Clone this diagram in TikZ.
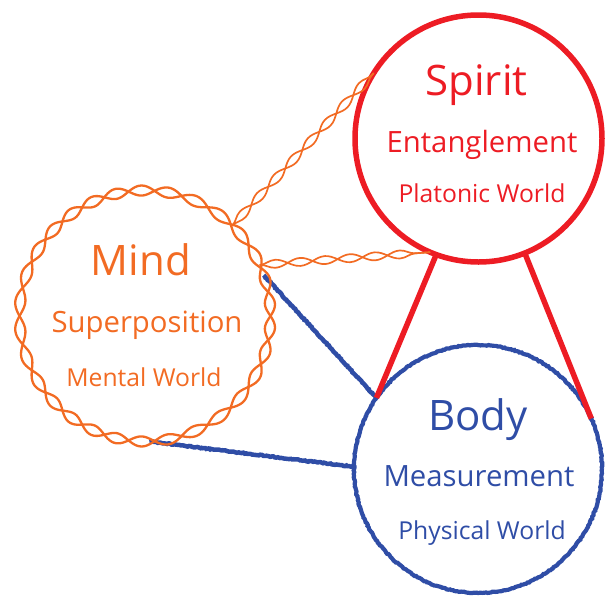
\documentclass[tikz,border=0pt]{standalone}
\usepackage{fontspec}
\setmainfont{Open Sans}
\usetikzlibrary{shapes.geometric,decorations.pathmorphing}
\definecolor{spiritred}{HTML}{ED1C24}
\definecolor{mindorange}{HTML}{F26B23}
\definecolor{bodyblue}{HTML}{2F4DA6}
\begin{document}
\begin{tikzpicture}[x=1pt,y=-1pt,
  rough/.style={decorate,decoration={random steps,segment length=1.6pt,amplitude=0.5pt}},
  ring/.style={circle,inner sep=0pt,outer sep=0pt},
  redline/.style={draw=spiritred,line width=5.5pt},
  blueline/.style={draw=bodyblue,line width=4.5pt,rough},
  strand/.style={draw=mindorange,line width=2.3pt},
  thin strand/.style={draw=mindorange,line width=1.7pt},
  helix/.style={thin strand,decorate,decoration={snake,segment length=50pt,amplitude=4pt}},
  helixm/.style={thin strand,decorate,decoration={snake,segment length=50pt,amplitude=4pt,mirror}},
  tbig/.style={anchor=base,font=\fontsize{42}{42}\selectfont,inner sep=0pt},
  tmid/.style={anchor=base,font=\fontsize{29.3}{29.3}\selectfont,inner sep=0pt},
  tsmall/.style={anchor=base,font=\fontsize{24.7}{24.7}\selectfont,inner sep=0pt}]
\useasboundingbox (0,0) rectangle (606,600);
% circles (named nodes)
\node[ring,minimum size=247pt] (spirit) at (478.5,138.5) {};
\node[ring,minimum size=248pt] (body) at (478,469) {};
\node[ring,minimum size=251pt] (mind) at (145,316) {};
% blue connectors
\draw[blueline] (mind.19.4) -- (body.145);
\draw[blueline] (mind.272) -- (body.179.5);
% body circle
\draw[draw=bodyblue,line width=4.2pt,rough] (body.center) circle[radius=124pt];
% red connectors
\draw[redline] (spirit.250) -- (body.145);
\draw[redline] (spirit.292.5) -- (body.24.4);
% spirit circle
\draw[draw=spiritred,line width=5.5pt] (spirit.center) circle[radius=123.5pt];
% orange helices
\draw[helix]  (mind.46.9) -- (spirit.148.9);
\draw[helixm] (mind.46.9) -- (spirit.148.9);
\draw[helix]  (mind.24.2) -- (spirit.247.6);
\draw[helixm] (mind.24.2) -- (spirit.247.6);
\draw[strand,shift={(mind.center)}] plot[domain=0:360,samples=800,smooth] (\x:{125.5+5*sin(15*\x+25*sin(3*\x))});
\draw[strand,shift={(mind.center)}] plot[domain=0:360,samples=800,smooth] (\x:{125.5-5*sin(15*\x+25*sin(3*\x))});
% texts
\node[tbig,text=spiritred] (t1) at (476.5,95) {Spirit};
\node[tmid,text=spiritred] (t2) at (482,152) {Entanglement};
\node[tsmall,text=spiritred] (t3) at (482,202) {Platonic World};
\node[tbig,text=mindorange] (t4) at (141,275) {Mind};
\node[tmid,text=mindorange] (t5) at (147,332) {Superposition};
\node[tsmall,text=mindorange] (t6) at (144,386) {Mental World};
\node[tbig,text=bodyblue] (t7) at (478,430) {Body};
\node[tmid,text=bodyblue] (t8) at (479,486) {Measurement};
\node[tsmall,text=bodyblue] (t9) at (482,539) {Physical World};
\end{tikzpicture}
\end{document}
